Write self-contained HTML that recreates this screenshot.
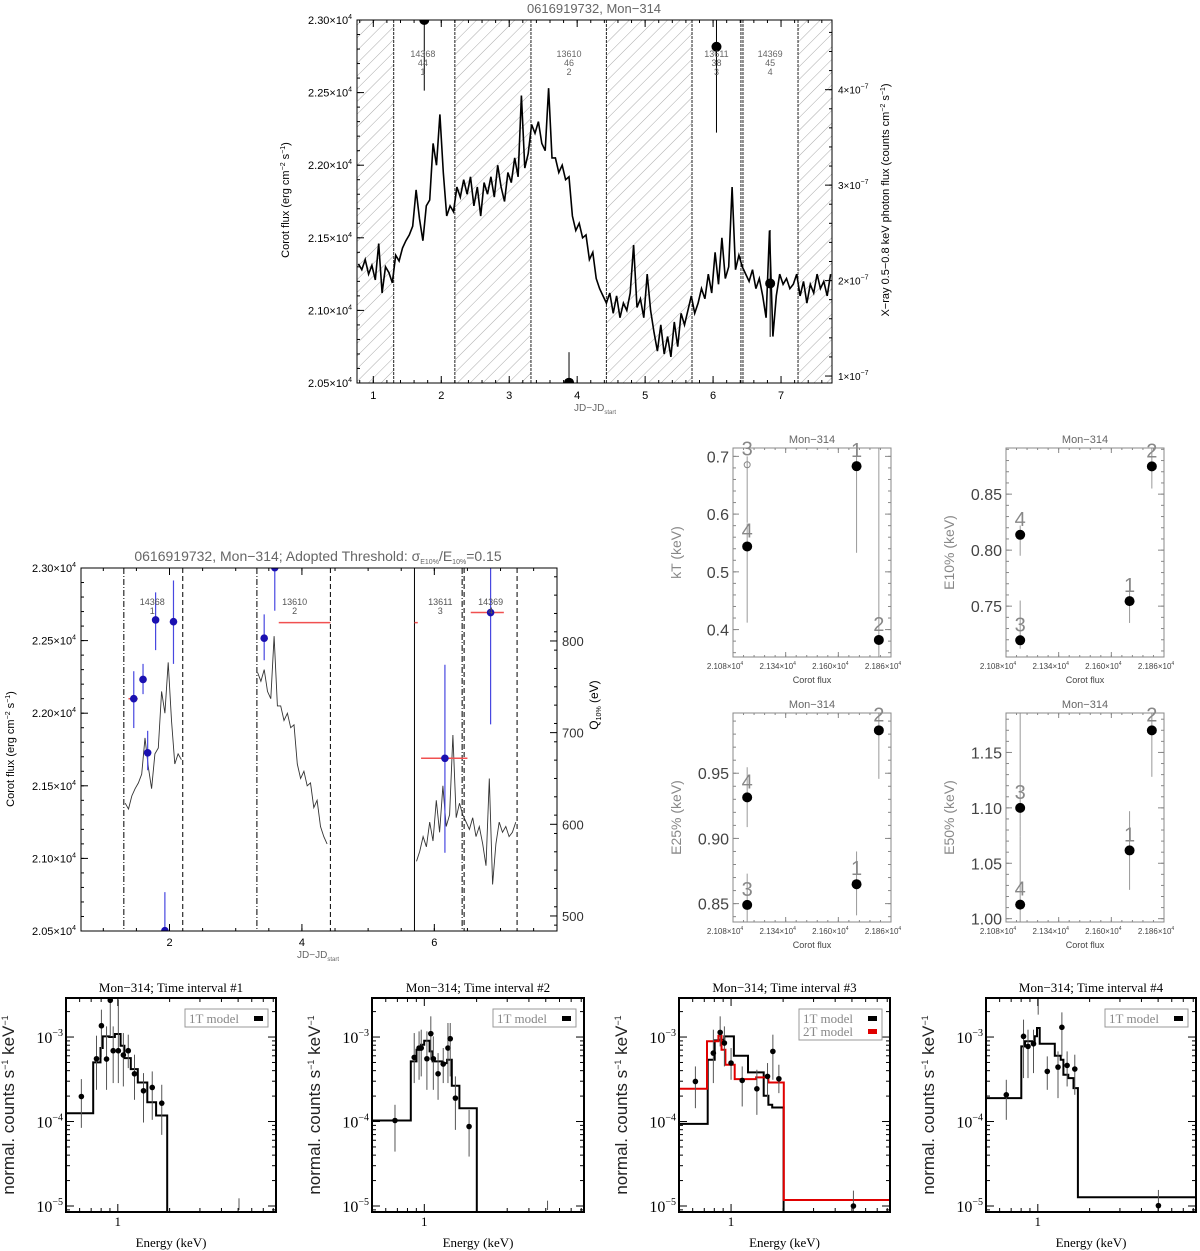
<!DOCTYPE html>
<html><head><meta charset="utf-8"><style>
html,body{margin:0;padding:0;background:#fff;}
svg{display:block;font-family:"Liberation Sans",sans-serif;}
</style></head><body>
<svg id="fig" width="1200" height="1251" viewBox="0 0 1200 1251" xmlns="http://www.w3.org/2000/svg">
<defs>
<pattern id="hatch" patternUnits="userSpaceOnUse" width="9" height="9" patternTransform="rotate(45)">
<line x1="0" y1="0" x2="0" y2="9" stroke="#aaa" stroke-width="1"/>
</pattern>
</defs>
</svg>
<script>
// ---------- TOP LIGHT CURVE DATA ----------
const lcStart = 0.78, lcStep = 0.05;
const lcFlux = [2.132,2.128,2.135,2.125,2.131,2.121,2.146,2.112,2.130,2.126,2.119,
2.138,2.134,2.143,2.148,2.152,2.158,
2.183,2.163,2.148,2.172,2.176,
2.215,2.200,2.235,2.195,2.165,2.172,
2.168,2.185,2.178,2.190,2.180,2.192,2.172,2.185,2.165,2.188,2.180,2.192,2.178,2.200,2.185,2.175,2.195,2.188,2.205,2.192,2.248,2.198,2.208,
2.228,2.222,2.230,2.215,2.210,2.253,2.205,
2.205,2.195,2.200,2.190,2.192,2.165,
2.155,2.160,2.150,2.152,2.135,2.140,2.122,
2.115,2.110,2.105,2.112,2.098,2.110,2.095,2.105,
2.100,2.112,2.145,2.102,2.108,2.095,2.125,2.100,2.085,
2.072,2.090,2.070,2.082,2.068,2.092,2.075,2.098,2.090,
2.100,2.110,2.098,2.105,2.115,2.108,2.125,2.112,2.140,2.118,2.150,2.122,2.130,2.185,
2.128,2.138,2.130,2.125,
2.120,2.128,2.115,2.122,2.110,2.095,2.155,2.082,2.110,2.125,2.118,
2.122,2.115,2.118,2.125,2.110,2.120,2.105,2.118,2.112,2.125,2.115,2.120,2.110,2.125];
const boundaries = [1.30,2.20,3.32,4.43,5.69,6.41,6.44,7.25];
const hatchStart = [0.76,2.20,4.43,7.25];
const hatchEnd = [1.30,3.32,5.69,7.75];
const xrT = [1.75,3.88,6.05,6.84];
const xrV = [4.73,0.93,4.45,1.97];
const xrLo = [3.99,0.93,3.55,1.41];
const xrHi = [4.9,1.25,4.9,2.53];
const obsId = ['14368','13610','13611','14369'];
const obsCnt = ['44','46','38','45'];
const obsNum = ['1','2','3','4'];
const obsLabelT = [1.73,3.88,6.05,6.84];
const lcYTicks = [2.05,2.10,2.15,2.20,2.25,2.30];
const lcYTickLabels = ['2.05','2.10','2.15','2.20','2.25','2.30'];
const xrYTicks = [1,2,3,4];
const topXTicks = [1,2,3,4,5,6,7];

// ---------- MIDDLE LEFT DATA ----------
const blockStart = [1.31,3.32,5.70,6.42];
const blockEnd = [2.20,4.43,6.45,7.25];
const blockStartStyle = ['dashdot','dashdot','solid','dashdot'];
const qT = [1.46,1.60,1.67,1.79,1.93,2.06,3.43,3.59,6.16,6.85];
const qV = [737,758,678,823,484,821,803,880,672,831];
const qLo = [705,742,659,790,484,775,779,833,569,709];
const qHi = [767,775,702,853,526,866,829,880,774,880];
const redStart = [1.38,3.65,5.70,5.80,6.55];
const redEnd = [1.52,4.43,5.75,6.50,7.05];
const redV = [737,820,820,672,831];
const midLabelT = [1.74,3.89,6.09,6.85];
const midLabelId = ['14368','13610','13611','14369'];
const midXTicks = [2,4,6];
const qTicks = [500,600,700,800];

// ---------- SCATTER DATA (intervals 1..4) ----------
const scFlux = [2.169,2.180,2.115,2.115];
const scXTicks = [2.108,2.134,2.160,2.186];
const kTV = [0.683,0.382,0.6855,0.544];
const kTLo = [0.533,0.3525,0.585,0.412];
const kTHi = [0.7145,0.7145,0.70,0.584];
const e10V = [0.7545,0.8748,0.7195,0.8137];
const e10Lo = [0.735,0.855,0.712,0.795];
const e10Hi = [0.7733,0.891,0.755,0.822];
const e25V = [0.8649,0.9829,0.849,0.9315];
const e25Lo = [0.841,0.9457,0.8359,0.9087];
const e25Hi = [0.89,0.9962,0.873,0.9546];
const e50V = [1.0616,1.1699,1.10,1.0127];
const e50Lo = [1.026,1.128,1.074,0.997];
const e50Hi = [1.097,1.1856,1.1856,1.074];

// ---------- SPECTRA DATA (energy keV, log10 counts) ----------
const s1E = [0.614,0.752,0.803,0.86,0.904,0.94,1.007,1.077,1.15,1.25,1.41,1.585,1.80,5.06];
const s1L = [-3.704,-3.257,-2.866,-3.261,-2.565,-3.162,-3.162,-3.213,-3.162,-3.435,-3.636,-3.597,-3.783,-5.3];
const s1Hi = [-3.498,-2.984,-2.676,-2.874,-2.478,-2.874,-2.557,-2.953,-2.972,-3.209,-3.427,-3.407,-3.565,-4.909];
const s1Lo = [-4.075,-3.625,-3.237,-3.625,-2.992,-3.545,-3.545,-3.585,-3.368,-3.743,-4.012,-3.980,-4.158,-5.047];
const m1Edges = [0.5,0.719,0.793,0.817,0.891,0.962,1.038,1.092,1.19,1.306,1.483,1.668,1.936];
const m1L = [-3.901,-3.300,-3.130,-2.992,-3.0,-2.964,-3.103,-3.249,-3.379,-3.538,-3.771,-3.929];

const s2E = [0.678,0.875,0.933,0.96,1.035,1.09,1.127,1.20,1.285,1.368,1.41,1.51,1.81,5.12];
const s2L = [-3.988,-3.241,-3.130,-3.130,-3.257,-2.960,-3.257,-3.435,-3.320,-3.130,-3.020,-3.723,-4.059,-5.3];
const s2Hi = [-3.802,-2.953,-2.933,-2.913,-2.933,-2.755,-2.992,-3.190,-3.130,-2.834,-2.834,-3.466,-3.862,-4.937];
const s2Lo = [-4.356,-3.545,-3.506,-3.466,-3.625,-3.269,-3.625,-3.743,-3.545,-3.545,-3.466,-4.099,-4.415,-5.047];
const m2Edges = [0.5,0.836,0.902,0.957,0.998,1.072,1.116,1.268,1.352,1.439,1.592,2.005];
const m2L = [-3.988,-3.289,-3.150,-3.091,-3.043,-3.170,-3.289,-3.308,-3.269,-3.577,-3.842];

const s3E = [0.622,0.79,0.865,0.915,1.0,1.16,1.41,1.625,1.745,1.89,5.1];
const s3L = [-3.526,-3.190,-2.945,-3.071,-3.308,-3.514,-3.613,-3.466,-3.170,-3.494,-5.0];
const s3Hi = [-3.348,-2.913,-2.755,-2.874,-3.130,-3.348,-3.387,-3.308,-2.972,-3.328,-4.818];
const s3Lo = [-3.842,-3.545,-3.111,-3.348,-3.506,-3.822,-3.921,-3.783,-3.506,-3.664,-5.087];
const m3Edges = [0.5,0.733,0.804,0.855,0.914,1.038,1.253,1.545,1.644,1.73,2.014];
const m3L = [-4.028,-3.269,-3.040,-3.032,-2.992,-3.221,-3.419,-3.696,-3.802,-3.834];
const m3bEdges = [0.5,0.726,0.845,0.881,0.927,1.05,1.396,1.644,2.018,8.3];
const m3bL = [-3.613,-3.051,-2.984,-3.150,-3.328,-3.498,-3.478,-3.538,-4.929];

const s4E = [0.656,0.826,0.877,0.944,1.005,1.135,1.31,1.38,1.48,1.64,5.02];
const s4L = [-3.684,-2.992,-3.111,-3.080,-2.3,-3.407,-3.356,-2.885,-3.336,-3.379,-4.996];
const s4Hi = [-3.506,-2.794,-2.913,-2.913,-2.0,-3.229,-3.170,-2.708,-3.170,-3.209,-4.810];
const s4Lo = [-3.980,-3.486,-3.486,-3.427,-2.735,-3.625,-3.723,-3.229,-3.585,-3.684,-5.087];
const m4Edges = [0.5,0.802,0.843,0.959,0.989,1.026,1.256,1.358,1.409,1.503,1.611,1.71,8.3];
const m4L = [-3.723,-3.111,-3.051,-2.99,-2.893,-3.079,-3.221,-3.269,-3.447,-3.486,-3.605,-4.897];

// ---------- HELPERS ----------
const NS = 'http://www.w3.org/2000/svg';
const svg = document.getElementById('fig');
function mk(tag, attrs, parent){
  const e = document.createElementNS(NS, tag);
  for (const k in attrs) e.setAttribute(k, attrs[k]);
  (parent || svg).appendChild(e);
  return e;
}
function lin(d0,d1,p0,p1){ return v => p0 + (v-d0)/(d1-d0)*(p1-p0); }
function logS(d0,d1,p0,p1){ const a=Math.log10(d0), b=Math.log10(d1); return v => p0 + (Math.log10(v)-a)/(b-a)*(p1-p0); }
let clipN = 0;
function clipFor(x0,y0,x1,y1){
  const id = 'c'+(clipN++);
  const cp = mk('clipPath',{id:id}, svg.querySelector('defs'));
  mk('rect',{x:x0,y:y0,width:x1-x0,height:y1-y0},cp);
  return 'url(#'+id+')';
}
function T(parent,x,y,html,size,opts){
  opts = opts||{};
  const t = mk('text',{x:x,y:y,'font-size':size,'text-anchor':opts.anchor||'middle',fill:opts.fill||'#000'},parent);
  if (opts.family) t.setAttribute('font-family',opts.family);
  if (opts.rot) t.setAttribute('transform','rotate('+opts.rot+' '+x+' '+y+')');
  t.innerHTML = html;
  return t;
}
function G(name){
  const g = mk('g',{});
  
  
  return g;
}
function boxRect(g,x0,y0,x1,y1,col){
  const r = mk('rect',{x:x0,y:y0,width:x1-x0,height:y1-y0,fill:'none',stroke:col||'#000','stroke-width':1},g);
  
  
}
function vTicks(g,sx,vals,y0,y1,len,col){
  vals.forEach(v=>{ const x=sx(v);
    mk('line',{x1:x,x2:x,y1:y1,y2:y1-len,stroke:col||'#000','stroke-width':1},g);
    mk('line',{x1:x,x2:x,y1:y0,y2:y0+len,stroke:col||'#000','stroke-width':1},g); });
}
function hTicksL(g,sy,vals,x0,len,col){ vals.forEach(v=>{ const y=sy(v); mk('line',{x1:x0,x2:x0+len,y1:y,y2:y,stroke:col||'#000','stroke-width':1},g); }); }
function hTicksR(g,sy,vals,x1,len,col){ vals.forEach(v=>{ const y=sy(v); mk('line',{x1:x1,x2:x1-len,y1:y,y2:y,stroke:col||'#000','stroke-width':1},g); }); }
function range(a,b,s){ const r=[]; for(let v=a; v<=b+1e-9; v+=s) r.push(+v.toFixed(6)); return r; }

// ================= TOP PANEL =================
(function(){
  const X0=357,X1=832,Y0=20,Y1=383;
  const sx=lin(0.76,7.75,X0,X1), sy=lin(2.05,2.30,Y1,Y0), sr=lin(0.927,4.73,Y1,Y0);
  const g=G('top-lightcurve-panel');
  const clip=clipFor(X0,Y0,X1,Y1);
  const gc=mk('g',{'clip-path':clip},g);
  hatchStart.forEach((s,i)=>{
    const r=mk('rect',{x:sx(s),y:Y0,width:sx(hatchEnd[i])-sx(s),height:Y1-Y0,fill:'url(#hatch)'},gc);
    
    
  });
  boundaries.forEach(b=>{
    const l=mk('line',{x1:sx(b),x2:sx(b),y1:Y0,y2:Y1,stroke:'#222','stroke-width':1,'stroke-dasharray':'3,1'},gc);
    
    
  });
  const pts=lcFlux.map((f,i)=>sx(lcStart+i*lcStep).toFixed(1)+','+sy(f).toFixed(1)).join(' ');
  const pl=mk('polyline',{points:pts,fill:'none',stroke:'#000','stroke-width':1.6},gc);
  
  
  xrT.forEach((t,i)=>{
    const l=mk('line',{x1:sx(t),x2:sx(t),y1:sr(xrLo[i]),y2:sr(xrHi[i]),stroke:'#000','stroke-width':1},gc);
    
    
    const c=mk('circle',{cx:sx(t),cy:sr(xrV[i]),r:5,fill:'#000'},gc);
    
    
  });
  obsLabelT.forEach((t,i)=>{
    T(g,sx(t),57,obsId[i],9,{fill:'#666'});
    T(g,sx(t),66,obsCnt[i],9,{fill:'#666'});
    T(g,sx(t),75,obsNum[i],9,{fill:'#666'});
  });
  boxRect(g,X0,Y0,X1,Y1);
  vTicks(g,sx,topXTicks,Y0,Y1,7);
  vTicks(g,sx,range(0.8,7.6,0.2),Y0,Y1,3);
  hTicksL(g,sy,lcYTicks,X0,7); hTicksL(g,sy,range(2.05,2.30,0.01),X0,3);
  hTicksR(g,sr,xrYTicks,X1,7); hTicksR(g,sr,range(1,4.6,0.2),X1,3);
  topXTicks.forEach(v=>T(g,sx(v),399,String(v),11));
  lcYTicks.forEach((v,i)=>T(g,352,sy(v)+4,lcYTickLabels[i]+'×10<tspan dy="-5" font-size="7">4</tspan>',11,{anchor:'end'}));
  xrYTicks.forEach(v=>T(g,838,sr(v)+4,v+'×10<tspan dy="-5" font-size="7">−7</tspan>',10,{anchor:'start'}));
  T(g,595,411,'JD−JD<tspan dy="3" font-size="6">start</tspan>',10,{fill:'#666'});
  T(g,594,13,'0616919732, Mon−314',13,{fill:'#666'});
  T(g,289,200,'Corot flux (erg cm<tspan dy="-4" font-size="7">−2</tspan><tspan dy="4"> s</tspan><tspan dy="-4" font-size="7">−1</tspan><tspan dy="4">)</tspan>',11,{rot:-90});
  T(g,889,200,'X−ray 0.5−0.8 keV photon flux (counts cm<tspan dy="-4" font-size="7">−2</tspan><tspan dy="4"> s</tspan><tspan dy="-4" font-size="7">−1</tspan><tspan dy="4">)</tspan>',11,{rot:-90});
})();

// ================= MIDDLE LEFT PANEL =================
(function(){
  const X0=81,X1=557,Y0=568,Y1=931;
  const sx=lin(0.663,7.853,X0,X1), sy=lin(2.05,2.30,Y1,Y0), sq=lin(483.6,879.6,Y1,Y0);
  const g=G('hardness-lightcurve-panel');
  const clip=clipFor(X0,Y0,X1,Y1);
  const gc=mk('g',{'clip-path':clip},g);
  blockStart.forEach((s,i)=>{
    const dash = blockStartStyle[i]==='solid' ? 'none' : '6,2,1,2';
    const l=mk('line',{x1:sx(s),x2:sx(s),y1:Y0,y2:Y1,stroke:'#000','stroke-width':1,'stroke-dasharray':dash},gc);
    
    
    const e=mk('line',{x1:sx(blockEnd[i]),x2:sx(blockEnd[i]),y1:Y0,y2:Y1,stroke:'#000','stroke-width':1,'stroke-dasharray':'5,3'},gc);
    
    
  });
  const segs=[[1.31,2.20],[3.32,4.43],[5.70,7.25]];
  segs.forEach(sg=>{
    const p=[]; lcFlux.forEach((f,i)=>{ const t=lcStart+i*lcStep; if(t>=sg[0]&&t<=sg[1]) p.push(sx(t).toFixed(1)+','+sy(f).toFixed(1)); });
    const pl=mk('polyline',{points:p.join(' '),fill:'none',stroke:'#333','stroke-width':0.9},gc);
    
    
  });
  redStart.forEach((s,i)=>{
    const l=mk('line',{x1:sx(s),x2:sx(redEnd[i]),y1:sq(redV[i]),y2:sq(redV[i]),stroke:'#f05050','stroke-width':1.5},gc);
    
    
  });
  qT.forEach((t,i)=>{
    const l=mk('line',{x1:sx(t),x2:sx(t),y1:sq(qLo[i]),y2:sq(qHi[i]),stroke:'#4848e0','stroke-width':1.2},gc);
    
    
    const c=mk('circle',{cx:sx(t),cy:sq(qV[i]),r:3.8,fill:'#1a10b0'},gc);
    
    
  });
  midLabelT.forEach((t,i)=>{ T(g,sx(t),605,midLabelId[i],9,{fill:'#555'}); T(g,sx(t),614,obsNum[i],9,{fill:'#555'}); });
  boxRect(g,X0,Y0,X1,Y1);
  vTicks(g,sx,midXTicks,Y0,Y1,7); vTicks(g,sx,range(1,7.5,0.5),Y0,Y1,3);
  hTicksL(g,sy,lcYTicks,X0,7); hTicksL(g,sy,range(2.05,2.30,0.01),X0,3);
  hTicksR(g,sq,qTicks,X1,7); hTicksR(g,sq,range(490,870,20),X1,3);
  midXTicks.forEach(v=>T(g,sx(v),946,String(v),11));
  lcYTicks.forEach((v,i)=>T(g,76,sy(v)+4,lcYTickLabels[i]+'×10<tspan dy="-5" font-size="7">4</tspan>',11,{anchor:'end'}));
  qTicks.forEach(v=>T(g,562,sq(v)+5,String(v),13,{anchor:'start',fill:'#333'}));
  T(g,318,958,'JD−JD<tspan dy="3" font-size="6">start</tspan>',10,{fill:'#666'});
  T(g,318,561,'0616919732, Mon−314; Adopted Threshold: σ<tspan dy="3" font-size="7">E10%</tspan><tspan dy="-3">/E</tspan><tspan dy="3" font-size="7">10%</tspan><tspan dy="-3">=0.15</tspan>',14,{fill:'#666'});
  T(g,14,749,'Corot flux (erg cm<tspan dy="-4" font-size="7">−2</tspan><tspan dy="4"> s</tspan><tspan dy="-4" font-size="7">−1</tspan><tspan dy="4">)</tspan>',11,{rot:-90});
  T(g,598,705,'Q<tspan dy="3" font-size="7">10%</tspan><tspan dy="-3"> (eV)</tspan>',12,{rot:-90});
})();

// ================= SCATTER PANELS =================
function scatter(name,X0,Y0,X1,Y1,yMin,yMax,ticks,dec,minor,vals,lo,hi,ylabel,openIdx){
  const sx=lin(2.108,2.186,X0,X1), sy=lin(yMin,yMax,Y1,Y0);
  const g=G(name);
  const clip=clipFor(X0,Y0,X1,Y1);
  const gc=mk('g',{'clip-path':clip},g);
  vals.forEach((v,i)=>{
    const x=sx(scFlux[i]);
    const l=mk('line',{x1:x,x2:x,y1:sy(lo[i]),y2:sy(hi[i]),stroke:'#999','stroke-width':1},gc);
    
    
    const c = (i===openIdx)
      ? mk('circle',{cx:x,cy:sy(v),r:3,fill:'none',stroke:'#888','stroke-width':1},gc)
      : mk('circle',{cx:x,cy:sy(v),r:5,fill:'#000'},gc);
    
    
    T(g,x,sy(v)-9,obsNum[i],20,{fill:'#888'});
  });
  boxRect(g,X0,Y0,X1,Y1,'#888');
  vTicks(g,sx,scXTicks,Y0,Y1,5,'#888');
  vTicks(g,sx,range(2.108,2.186,0.0052),Y0,Y1,2,'#888');
  hTicksL(g,sy,ticks,X0,6,'#888'); hTicksR(g,sy,ticks,X1,6,'#888');
  const mn=range(Math.ceil(yMin/minor)*minor,yMax,minor);
  hTicksL(g,sy,mn,X0,3,'#888'); hTicksR(g,sy,mn,X1,3,'#888');
  ticks.forEach(v=>T(g,X0-4,sy(v)+6,v.toFixed(dec),16,{anchor:'end',fill:'#444'}));
  scXTicks.forEach(v=>T(g,sx(v)-8,Y1+12,v.toFixed(3)+'×10<tspan dy="-4" font-size="5">4</tspan>',8,{fill:'#444'}));
  T(g,(X0+X1)/2,Y1+26,'Corot flux',9,{fill:'#444'});
  T(g,(X0+X1)/2,Y0-5,'Mon−314',11,{fill:'#666'});
  T(g,X0-52,(Y0+Y1)/2,ylabel,14,{rot:-90,fill:'#888'});
}
scatter('kt-vs-flux-panel',733,448,891,657,0.3525,0.7145,[0.4,0.5,0.6,0.7],1,0.02,kTV,kTLo,kTHi,'kT (keV)',2);
scatter('e10-vs-flux-panel',1006,448,1164,657,0.7046,0.8912,[0.75,0.80,0.85],2,0.01,e10V,e10Lo,e10Hi,'E10% (keV)',-1);
scatter('e25-vs-flux-panel',733,713,891,922,0.8359,0.9962,[0.85,0.90,0.95],2,0.01,e25V,e25Lo,e25Hi,'E25% (keV)',-1);
scatter('e50-vs-flux-panel',1006,713,1164,922,0.997,1.1856,[1.00,1.05,1.10,1.15],2,0.01,e50V,e50Lo,e50Hi,'E50% (keV)',-1);

// ================= SPECTRA =================
function spectrum(name,X0,X1,title,E,L,Hi,Lo,models,legend){
  const Y0=998,Y1=1212;
  const sx=logS(0.5,8.3,X0,X1), sy=lin(-5.071,-2.538,Y1,Y0);
  const g=G(name);
  const serif='"Liberation Serif",serif';
  const clip=clipFor(X0,Y0,X1,Y1);
  const gc=mk('g',{'clip-path':clip},g);
  models.forEach(m=>{
    let d='M'+sx(m.edges[0]).toFixed(1)+' '+sy(m.levels[0]).toFixed(1);
    for(let i=0;i<m.levels.length;i++){
      d+=' H'+sx(m.edges[i+1]).toFixed(1);
      if(i+1<m.levels.length) d+=' V'+sy(m.levels[i+1]).toFixed(1);
    }
    if(m.drop) d+=' V'+(Y1+5);
    const p=mk('path',{d:d,fill:'none',stroke:m.color,'stroke-width':2},gc);
    
    
  });
  E.forEach((e,i)=>{
    const x=sx(e);
    const l=mk('line',{x1:x,x2:x,y1:sy(Lo[i]),y2:sy(Hi[i]),stroke:'#555','stroke-width':1},gc);
    
    
    const c=mk('circle',{cx:x,cy:sy(L[i]),r:2.8,fill:'#000'},gc);
    
    
  });
  boxRect(g,X0,Y0,X1,Y1);
  mk('rect',{x:X0,y:Y0,width:X1-X0,height:Y1-Y0,fill:'none',stroke:'#000','stroke-width':2},g);
  vTicks(g,sx,[1],Y0,Y1,8);
  vTicks(g,sx,[0.5,0.6,0.7,0.8,0.9,2,3,4,5,6,7,8],Y0,Y1,4);
  const dec=[-5,-4,-3];
  hTicksL(g,sy,dec,X0,8); hTicksR(g,sy,dec,X1,8);
  const mn=[]; [-6,-5,-4,-3].forEach(d=>{ for(let k=2;k<10;k++){ const v=d+Math.log10(k); if(v>-5.071&&v<-2.538) mn.push(v);} });
  hTicksL(g,sy,mn,X0,4); hTicksR(g,sy,mn,X1,4);
  dec.forEach(d=>T(g,X0-3,sy(d)+6,'10<tspan dy="-7" font-size="10">'+String(d).replace('-','−')+'</tspan>',16,{anchor:'end',family:serif}));
  T(g,sx(1),1226,'1',13,{family:serif});
  T(g,(X0+X1)/2,1247,'Energy (keV)',13,{family:serif});
  T(g,(X0+X1)/2,992,title,13,{family:serif});
  T(g,X0-52,1105,'normal. counts s<tspan dy="-6" font-size="9">−1</tspan><tspan dy="6"> keV</tspan><tspan dy="-6" font-size="9">−1</tspan>',17,{rot:-90,family:'"Liberation Sans",sans-serif',fill:'#222'});
  const lx1=X1-8, lx0=lx1-83, ly0=1009, lh=legend.length*13+5;
  const lb=mk('rect',{x:lx0,y:ly0,width:lx1-lx0,height:lh,fill:'#fff',stroke:'#999','stroke-width':1},g);
  
  
  legend.forEach((it,i)=>{
    T(g,lx0+4,ly0+14+i*13,it.label,13,{anchor:'start',fill:'#888',family:serif});
    const s=mk('rect',{x:lx1-14,y:ly0+7+i*13,width:9,height:5,fill:it.color},g);
    
    
  });
}
spectrum('spectrum-interval-1',66,276,'Mon−314; Time interval #1',s1E,s1L,s1Hi,s1Lo,
  [{edges:m1Edges,levels:m1L,color:'#000',drop:true,name:'model-1t-step'}],[{label:'1T model',color:'#000'}]);
spectrum('spectrum-interval-2',372,584,'Mon−314; Time interval #2',s2E,s2L,s2Hi,s2Lo,
  [{edges:m2Edges,levels:m2L,color:'#000',drop:true,name:'model-1t-step'}],[{label:'1T model',color:'#000'}]);
spectrum('spectrum-interval-3',679,890,'Mon−314; Time interval #3',s3E,s3L,s3Hi,s3Lo,
  [{edges:m3Edges,levels:m3L,color:'#000',drop:true,name:'model-1t-step'},{edges:m3bEdges,levels:m3bL,color:'#e00000',drop:false,name:'model-2t-step'}],
  [{label:'1T model',color:'#000'},{label:'2T model',color:'#e00000'}]);
spectrum('spectrum-interval-4',986,1196,'Mon−314; Time interval #4',s4E,s4L,s4Hi,s4Lo,
  [{edges:m4Edges,levels:m4L,color:'#000',drop:false,name:'model-1t-step'}],[{label:'1T model',color:'#000'}]);
</script>
</body></html>
